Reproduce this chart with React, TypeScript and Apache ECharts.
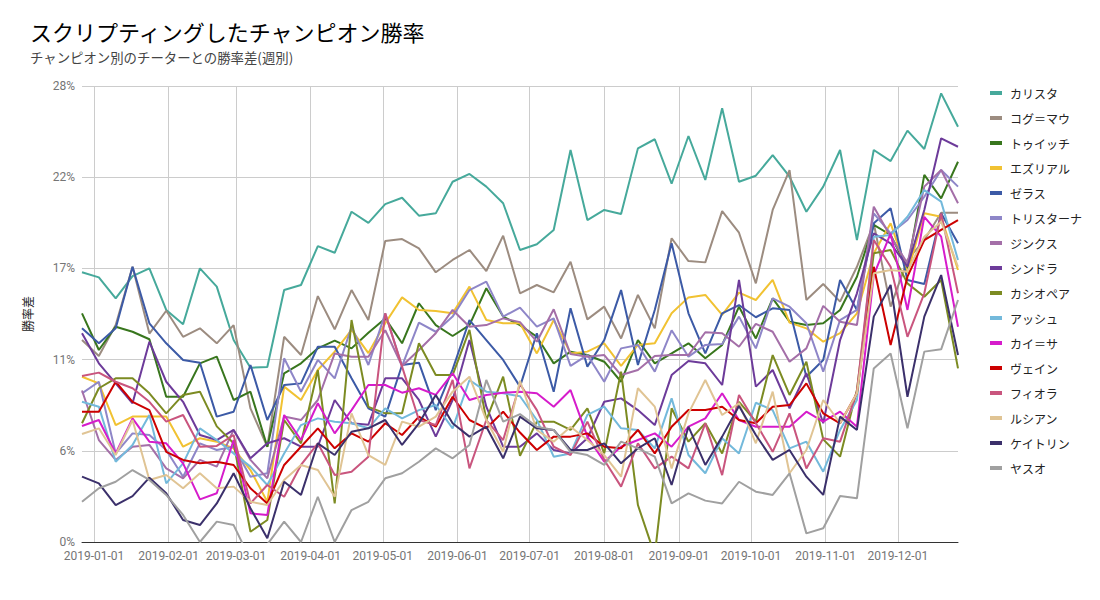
import React, { useEffect, useRef } from 'react';
import * as echarts from 'echarts';

const dates = [
  '2018-12-27', '2019-01-03', '2019-01-10', '2019-01-17', '2019-01-24', '2019-01-31',
  '2019-02-07', '2019-02-14', '2019-02-21', '2019-02-28', '2019-03-07', '2019-03-14',
  '2019-03-21', '2019-03-28', '2019-04-04', '2019-04-11', '2019-04-18', '2019-04-25',
  '2019-05-02', '2019-05-09', '2019-05-16', '2019-05-23', '2019-05-30', '2019-06-06',
  '2019-06-13', '2019-06-20', '2019-06-27', '2019-07-04', '2019-07-11', '2019-07-18',
  '2019-07-25', '2019-08-01', '2019-08-08', '2019-08-15', '2019-08-22', '2019-08-29',
  '2019-09-05', '2019-09-12', '2019-09-19', '2019-09-26', '2019-10-03', '2019-10-10',
  '2019-10-17', '2019-10-24', '2019-10-31', '2019-11-07', '2019-11-14', '2019-11-21',
  '2019-11-28', '2019-12-05', '2019-12-12', '2019-12-19', '2019-12-26',
];

const names = ['カリスタ', 'コグ＝マウ', 'トゥイッチ', 'エズリアル', 'ゼラス', 'トリスターナ', 'ジンクス', 'シンドラ',
  'カシオペア', 'アッシュ', 'カイ＝サ', 'ヴェイン', 'フィオラ', 'ルシアン', 'ケイトリン', 'ヤスオ'];

const colors = ['#46a99b', '#9c8c80', '#38761d', '#f1c232', '#3c5aa6', '#8e86c8', '#a46fa8', '#6d3b9a',
  '#7c8b22', '#73b9db', '#d61ccb', '#cc0000', '#c9557e', '#e0c494', '#3b306b', '#a0a0a0'];

const kalista = [16.56, 16.25, 14.96, 16.33, 16.8, 14.25, 13.37, 16.8, 15.68, 12.4, 10.7, 10.75, 15.47, 15.78, 18.17, 17.76, 20.28, 19.6, 20.75, 21.14, 20.04, 20.18, 22.12, 22.6, 21.82, 20.8, 17.93, 18.28, 19.16, 24.07, 19.77, 20.39, 20.14, 24.17, 24.73, 22.0, 24.93, 22.23, 26.63, 22.12, 22.49, 23.76, 22.43, 20.28, 21.82, 24.07, 18.54, 24.07, 23.39, 25.26, 24.13, 27.55, 25.5];
const kogmaw = [12.4, 11.42, 13.32, 16.9, 12.8, 14.2, 12.6, 13.12, 12.2, 13.32, 8.2, 5.85, 12.6, 11.48, 15.1, 13.06, 15.47, 13.63, 18.48, 18.6, 18.03, 16.56, 17.32, 17.93, 16.64, 18.81, 15.27, 15.78, 15.33, 17.21, 13.67, 14.45, 12.5, 15.17, 13.12, 18.65, 17.25, 17.17, 20.32, 18.99, 15.88, 20.39, 22.84, 14.86, 15.84, 14.76, 16.9, 19.57, 14.45, 17.32, 18.54, 20.22, 20.22];
const twitch = [14.04, 11.79, 13.22, 12.91, 12.45, 8.92, 8.92, 10.97, 11.38, 8.72, 9.23, 5.85, 10.36, 10.97, 11.89, 12.36, 11.89, 12.85, 13.73, 12.2, 14.66, 13.32, 12.65, 13.32, 15.58, 13.84, 13.32, 12.6, 10.97, 11.69, 11.48, 11.07, 9.84, 12.4, 10.97, 11.58, 12.2, 11.28, 12.1, 14.45, 12.5, 14.96, 13.53, 13.32, 13.43, 14.25, 16.29, 19.47, 18.85, 16.8, 22.54, 21.1, 23.35];
const ezreal = [10.15, 9.74, 7.18, 7.7, 7.7, 7.7, 5.85, 6.37, 6.16, 5.75, 4.42, 2.47, 9.54, 8.72, 10.56, 11.69, 13.02, 11.6, 13.43, 15.02, 14.25, 14.18, 14.04, 15.68, 13.63, 13.43, 13.43, 11.58, 13.63, 11.58, 11.69, 12.2, 10.81, 12.1, 12.2, 14.04, 15.02, 15.17, 13.94, 15.31, 14.86, 16.09, 13.47, 13.12, 12.3, 12.82, 14.04, 17.73, 19.57, 16.5, 20.18, 19.97, 16.7];
const xerath = [13.12, 12.2, 13.12, 16.9, 13.43, 12.2, 11.18, 11.01, 7.7, 8.0, 10.87, 7.49, 9.64, 9.74, 11.99, 11.99, 10.05, 8.21, 7.7, 10.87, 11.01, 8.1, 10.6, 13.63, 12.4, 11.18, 9.54, 12.82, 9.23, 14.35, 10.77, 12.4, 15.47, 10.87, 14.25, 18.34, 14.04, 11.58, 14.04, 14.55, 13.8, 14.35, 14.25, 10.15, 11.18, 16.09, 14.25, 19.57, 20.49, 16.09, 15.84, 20.18, 18.34];
const tristana = [9.13, 9.84, 5.44, 6.67, 6.57, 5.65, 4.01, 6.06, 5.65, 5.85, 4.01, 4.22, 11.28, 9.23, 11.18, 10.05, 13.22, 10.87, 14.04, 10.81, 13.47, 12.91, 13.84, 15.47, 15.99, 13.84, 14.39, 13.22, 13.73, 10.81, 11.48, 9.84, 11.89, 12.1, 10.46, 13.0, 11.38, 12.1, 12.16, 13.84, 11.89, 14.96, 14.45, 13.43, 10.46, 13.63, 14.25, 20.18, 18.95, 19.77, 21.2, 22.84, 21.82];
const jinx = [9.3, 6.26, 5.04, 5.85, 5.96, 4.52, 3.91, 5.04, 4.63, 6.88, 5.04, 3.91, 7.7, 7.49, 8.72, 11.58, 11.38, 11.38, 13.0, 10.81, 11.79, 12.82, 14.25, 13.22, 13.32, 13.73, 13.5, 12.3, 14.29, 11.54, 11.38, 11.48, 10.25, 10.56, 11.42, 11.48, 11.48, 12.88, 12.82, 11.99, 13.39, 12.91, 11.07, 11.89, 14.5, 13.53, 13.32, 20.59, 18.75, 17.11, 21.82, 22.84, 20.8];
const syndra = [12.82, 10.97, 9.74, 8.52, 12.3, 9.84, 8.61, 6.57, 6.26, 6.88, 5.14, 6.06, 6.37, 5.85, 5.85, 8.72, 7.29, 7.2, 10.05, 10.05, 8.72, 6.47, 8.72, 12.4, 8.31, 5.85, 5.85, 6.67, 5.65, 5.44, 6.37, 8.61, 8.82, 8.1, 7.18, 10.25, 11.11, 10.97, 9.64, 16.09, 9.54, 10.56, 8.21, 10.36, 7.29, 12.4, 15.27, 18.95, 18.34, 16.9, 20.39, 24.79, 24.27];
const cassiopeia = [7.29, 9.44, 10.05, 10.05, 9.13, 7.9, 9.03, 9.23, 7.1, 6.06, 0.63, 1.35, 7.49, 6.06, 10.56, 2.37, 13.63, 8.3, 7.9, 7.9, 12.2, 10.25, 10.25, 13.02, 7.49, 10.15, 5.3, 7.39, 7.39, 6.88, 8.21, 5.44, 10.46, 2.27, -0.8, 8.21, 6.16, 7.29, 5.44, 8.61, 7.39, 11.48, 9.03, 11.07, 6.3, 5.24, 9.33, 17.73, 17.93, 15.88, 15.06, 16.09, 10.66];
const ashe = [8.61, 8.31, 4.93, 5.96, 7.8, 3.6, 4.83, 6.98, 6.26, 5.44, 4.63, 3.5, 5.44, 7.18, 7.59, 7.39, 7.29, 6.98, 8.21, 7.59, 8.1, 8.41, 6.98, 9.95, 9.23, 9.13, 8.95, 7.49, 5.24, 5.44, 7.8, 8.31, 6.98, 6.88, 5.75, 8.82, 5.34, 4.22, 6.37, 5.44, 8.55, 8.1, 5.75, 6.16, 4.32, 6.88, 8.72, 18.75, 18.85, 19.97, 21.61, 20.9, 17.32];
const kaisa = [7.12, 7.49, 5.44, 7.59, 6.16, 6.06, 4.83, 2.62, 2.99, 6.26, 1.76, 1.66, 7.8, 6.26, 8.52, 6.67, 8.1, 9.64, 9.64, 9.17, 9.44, 9.03, 10.36, 8.72, 9.03, 9.17, 9.23, 9.13, 8.31, 9.33, 6.47, 4.93, 5.85, 6.26, 6.67, 5.85, 7.08, 7.59, 9.13, 7.49, 7.08, 7.08, 7.08, 8.0, 7.39, 8.0, 7.08, 16.39, 18.95, 14.25, 19.97, 18.75, 13.22];
const vayne = [8.0, 8.0, 9.84, 8.61, 8.1, 5.54, 5.04, 4.83, 4.93, 4.73, 3.3, 2.37, 4.73, 5.85, 6.98, 5.75, 6.67, 6.16, 7.29, 6.57, 7.7, 7.08, 8.92, 7.49, 6.98, 8.0, 6.72, 5.65, 6.47, 6.47, 6.67, 5.85, 5.75, 6.88, 5.44, 7.08, 8.1, 8.1, 8.31, 7.49, 7.29, 8.31, 8.41, 9.74, 7.9, 7.29, 9.13, 16.9, 12.1, 16.29, 18.54, 19.16, 19.77];
const fiora = [10.19, 10.4, 9.84, 9.44, 8.61, 7.39, 7.8, 5.85, 5.9, 6.57, 2.37, 3.5, 2.78, 4.73, 6.06, 4.11, 4.32, 5.24, 14.04, 10.77, 7.49, 7.18, 9.95, 4.52, 7.49, 6.26, 9.7, 8.1, 5.85, 5.34, 7.39, 5.04, 3.4, 6.06, 4.52, 5.24, 4.52, 7.29, 4.11, 9.03, 7.29, 5.54, 7.9, 4.52, 6.37, 6.16, 9.23, 18.54, 16.9, 12.6, 15.27, 20.18, 15.27];
const lucian = [6.63, 6.98, 5.34, 7.49, 3.81, 4.11, 3.3, 4.22, 3.3, 3.4, 2.47, 2.27, 3.81, 4.73, 4.42, 2.78, 7.9, 5.34, 4.73, 7.39, 7.08, 7.7, 9.23, 10.15, 7.49, 5.54, 9.9, 6.88, 6.16, 7.08, 6.26, 5.34, 4.01, 9.44, 8.31, 4.52, 7.9, 9.95, 7.8, 8.52, 6.06, 9.23, 4.22, 5.65, 8.72, 7.29, 9.13, 16.5, 16.7, 16.6, 18.75, 19.67, 16.9];
const caitlyn = [4.01, 3.6, 2.27, 2.82, 3.95, 2.99, 1.35, 1.04, 2.37, 4.22, 2.07, 0.23, 3.7, 2.89, 6.06, 5.34, 6.77, 6.98, 7.49, 5.96, 7.29, 9.03, 7.29, 6.47, 7.08, 5.14, 7.7, 6.98, 6.88, 5.65, 5.65, 6.06, 4.83, 5.75, 6.37, 3.5, 7.08, 4.73, 6.47, 8.35, 6.57, 5.04, 5.65, 4.01, 2.89, 7.7, 6.88, 13.84, 15.78, 8.92, 13.84, 16.39, 11.48];
const yasuo = [2.47, 3.3, 3.7, 4.42, 3.81, 2.89, 1.66, 0.0, 1.25, 1.04, -1.1, -0.15, 1.25, 0.0, 2.78, 0.0, 1.96, 2.47, 3.91, 4.22, 4.93, 5.75, 5.14, 5.96, 9.95, 7.39, 7.85, 7.08, 6.88, 5.54, 5.34, 4.73, 6.16, 5.75, 5.24, 2.37, 2.99, 2.54, 2.37, 3.7, 3.09, 2.89, 4.22, 0.53, 0.84, 2.82, 2.68, 10.66, 11.58, 6.98, 11.69, 11.83, 14.86];

const yMin = 0;
const yMax = 28;
const yStep = 5.6;

const CJK = '"Noto Sans CJK JP", "Noto Sans", sans-serif';
const LATIN = 'Roboto, "Noto Sans", sans-serif';

export default function App() {
  const ref = useRef<HTMLDivElement>(null);
  useEffect(() => {
    document.body.style.margin = '0';
    const chart = echarts.init(ref.current as HTMLDivElement, null, { renderer: 'svg' });
    const all = [kalista, kogmaw, twitch, ezreal, xerath, tristana, jinx, syndra,
      cassiopeia, ashe, kaisa, vayne, fiora, lucian, caitlyn, yasuo];
    const day = 86400000;
    chart.setOption({
      animation: false,
      backgroundColor: '#ffffff',
      title: {
        text: 'スクリプティングしたチャンピオン勝率',
        subtext: 'チャンピオン別のチーターとの勝率差(週別)',
        left: 30,
        top: 19,
        padding: 0,
        itemGap: 6,
        textStyle: { fontFamily: CJK, fontSize: 22, lineHeight: 24, fontWeight: 'normal', color: '#000000' },
        subtextStyle: { fontFamily: CJK, fontSize: 13.4, lineHeight: 16, color: '#444444' },
      },
      legend: {
        orient: 'vertical',
        left: 990,
        top: 86,
        icon: 'rect',
        itemWidth: 12,
        itemHeight: 4,
        itemGap: 11,
        padding: 0,
        textStyle: { fontFamily: CJK, fontSize: 12, color: '#222222', lineHeight: 14, padding: [0, 0, 0, 3] },
        data: names,
      },
      grid: { left: 82, right: 142, top: 86, bottom: 58, containLabel: false },
      xAxis: {
        type: 'time',
        min: new Date(2018, 11, 27).getTime(),
        max: new Date(2019, 11, 26).getTime(),
        splitNumber: 12,
        minInterval: 28 * day,
        maxInterval: 31 * day,
        axisLine: { show: true, lineStyle: { color: '#333333', width: 1 } },
        axisTick: { show: false },
        axisLabel: {
          formatter: '{yyyy}-{MM}-{dd}',
          showMinLabel: false,
          showMaxLabel: false,
          color: '#757575',
          fontFamily: LATIN,
          fontSize: 12,
          margin: 8,
          hideOverlap: false,
        },
        splitLine: { show: true, showMinLine: false, showMaxLine: false, lineStyle: { color: '#cccccc', width: 1 } },
      },
      yAxis: {
        type: 'value',
        min: yMin,
        max: yMax,
        interval: yStep,
        name: '勝率差',
        nameLocation: 'middle',
        nameGap: 49,
        nameTextStyle: { fontFamily: CJK, fontSize: 12, color: '#222222' },
        axisLine: { show: false },
        axisTick: { show: false },
        axisLabel: {
          formatter: (v: number) => Math.round(v) + '%',
          color: '#757575',
          fontFamily: LATIN,
          fontSize: 12,
          margin: 7,
        },
        splitLine: { lineStyle: { color: '#cccccc', width: 1 } },
      },
      series: names.map((n, k) => ({
        name: n,
        type: 'line',
        symbol: 'none',
        showSymbol: false,
        clip: true,
        data: dates.map((d, i) => [d, all[k][i]]),
        lineStyle: { width: 2, color: colors[k] },
        itemStyle: { color: colors[k] },
        emphasis: { disabled: true },
      })),
    });
    return () => chart.dispose();
  }, []);
  return <div ref={ref} style={{ width: 1100, height: 600 }} />;
}
